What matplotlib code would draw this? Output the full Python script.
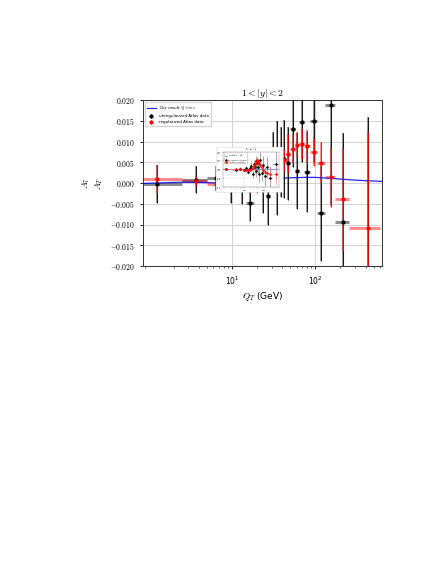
import numpy as np
import matplotlib
matplotlib.use("Agg")
import matplotlib.pyplot as plt
from matplotlib.ticker import FuncFormatter, MultipleLocator, FixedLocator

plt.rcParams['mathtext.fontset'] = 'cm'
plt.rcParams['font.family'] = 'DejaVu Sans'

# ATLAS Q_T bins (GeV)
qt = [1.25, 3.75, 6.5, 9.7, 13.15, 16.7, 20.25, 23.75, 27.25, 30.8, 34.5, 38.4,
      42.65, 47.55, 53.3, 60.15, 68.65, 79.4, 95.2, 118.5, 152.5, 213.0, 426.5]
qt_lo = [0, 2.5, 5.0, 8.0, 11.4, 14.9, 18.5, 22.0, 25.5, 29.0, 32.6, 36.4,
         40.4, 44.9, 50.2, 56.4, 63.9, 73.4, 85.4, 105.0, 132.0, 173.0, 253.0]
qt_hi = [2.5, 5.0, 8.0, 11.4, 14.9, 18.5, 22.0, 25.5, 29.0, 32.6, 36.4, 40.4,
         44.9, 50.2, 56.4, 63.9, 73.4, 85.4, 105.0, 132.0, 173.0, 253.0, 600.0]

# unregularized data
unreg_y = [-0.0002, 0.0008, 0.0011, 0.0003, 0.0002, -0.0049, 0.0010, -0.0005,
           -0.0031, 0.0052, 0.0037, 0.0051, 0.0058, 0.0047, 0.0129, 0.0029,
           0.0146, 0.0027, 0.0150, -0.0073, 0.0187, -0.0093, -0.0320]
unreg_err = [0.0045, 0.0033, 0.0030, 0.0051, 0.0053, 0.0043, 0.0028, 0.0068,
             0.0069, 0.0072, 0.0113, 0.0084, 0.0095, 0.0088, 0.0090, 0.0092,
             0.0095, 0.0096, 0.0100, 0.0115, 0.0240, 0.0213, 0.0480]

# regularized data
reg_y = [0.0010, 0.0006, -0.0002, 0.0000, -0.0003, -0.0006, -0.0004, 0.0003,
         0.0013, 0.0025, 0.0035, 0.0045, 0.0055, 0.0071, 0.0083, 0.0091,
         0.0094, 0.0088, 0.0074, 0.0049, 0.0014, -0.0039, -0.0108]
reg_err = [0.0034, 0.0012, 0.0016, 0.0012, 0.0014, 0.0017, 0.0021, 0.0028,
           0.0022, 0.0022, 0.0023, 0.0025, 0.0027, 0.0046, 0.0035, 0.0031,
           0.0035, 0.0040, 0.0034, 0.0050, 0.0071, 0.0124, 0.0232]

# theory curve
theory_qt = [0.86, 2.5, 5.0, 8.0, 15, 25, 35, 45, 60, 80, 100, 150, 250, 400, 630]
theory_y = [-0.0001, 0.0002, 0.0001, 0.0000, 0.0001, 0.0004, 0.0009, 0.0012,
            0.0013, 0.00137, 0.00135, 0.00113, 0.0008, 0.00055, 0.0004]

# small pasted panel (other rapidity bin)
ins_unreg_y = [0.0002, -0.0004, 0.0006, -0.0010, 0.0012, -0.0030, 0.0015, 0.0040,
               -0.0050, 0.0060, 0.0020, 0.0090, -0.0020, 0.0070, 0.0030, -0.0060,
               0.0110, -0.0040, 0.0050, -0.0080, 0.0020, -0.0100, 0.0060]
ins_unreg_err = [0.0010, 0.0012, 0.0014, 0.0016, 0.0020, 0.0030, 0.0035, 0.0040,
                 0.0045, 0.0050, 0.0060, 0.0065, 0.0070, 0.0075, 0.0080, 0.0085,
                 0.0090, 0.0095, 0.0100, 0.0110, 0.0120, 0.0140, 0.0180]
ins_reg_y = [0.0000, 0.0000, -0.0002, -0.0005, -0.0008, -0.0010, -0.0008, 0.0000,
             0.0015, 0.0035, 0.0055, 0.0075, 0.0090, 0.0100, 0.0095, 0.0075,
             0.0050, 0.0020, -0.0010, -0.0030, -0.0040, -0.0050, -0.0060]
ins_reg_err = [0.0006, 0.0006, 0.0007, 0.0008, 0.0009, 0.0010, 0.0012, 0.0014,
               0.0016, 0.0018, 0.0020, 0.0022, 0.0025, 0.0028, 0.0030, 0.0032,
               0.0035, 0.0040, 0.0045, 0.0050, 0.0060, 0.0080, 0.0120]
ins_theory_y = [0.0, 0.0, 0.0, 0.0, 0.0, 0.0, 0.0, 0.0, 0.0, 0.0, 0.0, 0.0, 0.0,
                0.0, 0.0]

qt_a = np.array(qt)
xerr = [qt_a - np.array(qt_lo), np.array(qt_hi) - qt_a]


def draw_points(ax, y, err, col, label=None):
    ax.errorbar(qt, y, xerr=xerr, fmt='none', ecolor=col, elinewidth=2.2,
                alpha=0.45, zorder=2)
    ax.errorbar(qt, y, yerr=err, fmt='none', ecolor=col, elinewidth=1.5,
                alpha=0.4, zorder=2)
    ax.errorbar(qt, y, yerr=err, fmt='o', color=col, ms=2.0, elinewidth=0.6,
                zorder=3, label=label)


fig = plt.figure(figsize=(4.33, 5.61), dpi=100)
ax = fig.add_axes([143 / 433, 1 - 266 / 561, 239 / 433, 166 / 561])

ax.plot(theory_qt, theory_y, color='blue', lw=0.9, alpha=0.85, zorder=2.5,
        label=r'Our result $Q\ll m_Z$')
draw_points(ax, unreg_y, unreg_err, 'black', 'unregularized Atlas data')
draw_points(ax, reg_y, reg_err, 'red', 'regularized Atlas data')

ax.set_xscale('log')
ax.set_xlim(0.86, 630)
ax.set_ylim(-0.020, 0.020)
ax.xaxis.set_major_locator(FixedLocator([10, 100]))
ax.yaxis.set_major_locator(MultipleLocator(0.005))
ax.yaxis.set_major_formatter(FuncFormatter(lambda v, p: r'$%.3f$' % v))
ax.grid(True, which='major', color='#cccccc', lw=0.6)
ax.set_axisbelow(True)
ax.tick_params(labelsize=5.5, length=2.5, width=0.6)
ax.tick_params(which='minor', length=1.5, width=0.4)
for s in ax.spines.values():
    s.set_linewidth(0.7)
    s.set_color('#333333')

ax.set_title(r'$1<|y|<2$', fontsize=7, pad=2)
ax.set_xlabel(r'$Q_T$ (GeV)', fontsize=6.5, labelpad=2)
ax.set_ylabel('$A_7$\n$A_T$', fontsize=6.5, labelpad=3)

ax.legend(loc='upper left', fontsize=2.9, handlelength=2.2, borderpad=0.5,
          labelspacing=0.5, framealpha=0.8)

# pasted small panel
bg = fig.add_axes([216 / 433, 1 - 192 / 561, 67 / 433, 45 / 561])
bg.set_facecolor('white')
bg.set_xticks([])
bg.set_yticks([])
for s in bg.spines.values():
    s.set_color('#dddddd')
    s.set_linewidth(0.4)

ins = fig.add_axes([223.3 / 433, 1 - 186.7 / 561, 56 / 433, 35 / 561])
ins.plot(theory_qt, ins_theory_y, color='#6070ff', lw=0.5)
ins.errorbar(qt, ins_unreg_y, xerr=xerr, yerr=ins_unreg_err, fmt='o', ms=0.8,
             color='black', ecolor='#666666', elinewidth=0.4)
ins.errorbar(qt, ins_reg_y, xerr=xerr, yerr=ins_reg_err, fmt='o', ms=0.8,
             color='red', ecolor='#ff8080', elinewidth=0.4)
ins.set_xscale('log')
ins.set_xlim(0.86, 630)
ins.set_ylim(-0.020, 0.020)
ins.xaxis.set_major_locator(FixedLocator([10, 100]))
ins.yaxis.set_major_locator(MultipleLocator(0.01))
ins.yaxis.set_major_formatter(FuncFormatter(lambda v, p: r'$%.2f$' % v))
ins.grid(True, color='#dddddd', lw=0.3)
ins.tick_params(labelsize=1.4, length=0.6, width=0.2, pad=0.5)
ins.tick_params(which='minor', length=0.4, width=0.2)
for s in ins.spines.values():
    s.set_linewidth(0.3)
    s.set_color('#888888')
ins.set_title(r'$0<|y|<1$', fontsize=1.8, pad=0.5)
ins.legend([r'Our result $Q\ll m_Z$', 'unregularized Atlas data',
            'regularized Atlas data'], loc='upper left', fontsize=1.1,
           handlelength=1.5, borderpad=0.3, labelspacing=0.3, framealpha=0.8)

fig.savefig('out.png', dpi=100)
